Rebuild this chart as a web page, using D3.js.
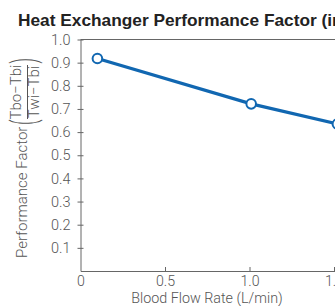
<!DOCTYPE html>
<html>
<head>
<meta charset="utf-8">
<script src="https://cdn.jsdelivr.net/npm/d3@7"></script>
<style>
    body { margin: 0; background: #fff; }
    svg { display: block; font-family: 'Liberation Sans', Arial, sans-serif; }
    .light { font-family: Roboto, 'Liberation Sans', sans-serif; font-weight: 300; }
</style>
</head>
<body>
<div id="chart"></div>
<script>
'use strict';

const flowRates = [0.1, 1.01, 1.52];
const performance = [0.918, 0.722, 0.635];
const yTicks = [0.1, 0.2, 0.3, 0.4, 0.5, 0.6, 0.7, 0.8, 0.9, 1.0];
const xTicks = [0, 0.5, 1.0, 1.5];

(function(doc) {

    const width = 335;
    const height = 306;
    const left = 80.5;
    const top = 39.5;
    const bottom = 271;
    const axisColor = '#666';
    const textColor = '#555';
    const lineColor = '#1167b1';

    const svg = d3.select('#chart').append('svg')
        .attr('width', width)
        .attr('height', height);

    const x = d3.scaleLinear().domain([0, 2]).range([left, left + 2 * 169]);
    const y = d3.scaleLinear().domain([0, 1]).range([bottom, top]);

    // title, cut off on the right like the original
    svg.append('text')
        .attr('x', 18)
        .attr('y', 26)
        .attr('font-size', 17.3)
        .attr('font-weight', 'bold')
        .attr('fill', '#222')
        .text('Heat Exchanger Performance Factor (in vitro)');

    // top border
    svg.append('line')
        .attr('x1', left).attr('x2', width)
        .attr('y1', top).attr('y2', top)
        .attr('stroke', axisColor);

    const yAxis = svg.append('g')
        .attr('transform', `translate(${left}, 0)`)
        .call(d3.axisLeft(y).tickValues(yTicks).tickFormat(d3.format('.1f')).tickSize(0).tickPadding(10));
    yAxis.select('.domain').attr('stroke', axisColor);
    yAxis.selectAll('.tick line')
        .attr('x1', -3).attr('x2', 3)
        .attr('stroke', axisColor);
    yAxis.selectAll('.tick text')
        .attr('class', 'light')
        .attr('font-size', 14.5)
        .attr('fill', textColor)
        .attr('font-family', null);

    const xAxis = svg.append('g')
        .attr('transform', `translate(0, ${bottom})`)
        .call(d3.axisBottom(x).tickValues(xTicks).tickFormat((d) => d === 0 ? '0' : d3.format('.1f')(d))
            .tickSizeInner(-4).tickSizeOuter(0).tickPadding(5));
    xAxis.select('.domain').attr('stroke', axisColor);
    xAxis.selectAll('.tick line').attr('stroke', axisColor);
    xAxis.selectAll('.tick').filter((d) => d === 0).select('line').remove();
    xAxis.selectAll('.tick text')
        .attr('class', 'light')
        .attr('font-size', 14.2)
        .attr('fill', textColor)
        .attr('font-family', null);

    svg.append('text')
        .attr('class', 'light')
        .attr('x', 207)
        .attr('y', 303)
        .attr('text-anchor', 'middle')
        .attr('font-size', 14.3)
        .attr('fill', textColor)
        .text('Blood Flow Rate (L/min)');

    // y label with the fraction in brackets
    const yLabel = svg.append('g')
        .attr('class', 'light')
        .attr('transform', 'translate(27, 258) rotate(-90)')
        .attr('fill', textColor);
    yLabel.append('text')
        .attr('font-size', 15)
        .text('Performance Factor');
    yLabel.append('text')
        .attr('transform', 'translate(133, 8) scale(0.5, 1)')
        .attr('font-size', 34)
        .text('(');
    yLabel.append('text')
        .attr('transform', 'translate(200, 8) scale(0.5, 1)')
        .attr('font-size', 34)
        .attr('text-anchor', 'end')
        .text(')');
    yLabel.append('text')
        .attr('x', 166).attr('y', -6)
        .attr('text-anchor', 'middle')
        .attr('font-size', 15)
        .text('Tbo\u2212Tbi');
    yLabel.append('text')
        .attr('x', 166).attr('y', 11.5)
        .attr('text-anchor', 'middle')
        .attr('font-size', 15)
        .text('Twi\u2212Tbi');
    yLabel.append('line')
        .attr('x1', 139).attr('x2', 193)
        .attr('y1', 0.5).attr('y2', 0.5)
        .attr('stroke', textColor);

    const points = flowRates.map((d, i) => ({flow: d, factor: performance[i]}));

    const line = d3.line()
        .x((d) => x(d.flow))
        .y((d) => y(d.factor));

    svg.append('path')
        .datum(points)
        .attr('d', line)
        .attr('fill', 'none')
        .attr('stroke', lineColor)
        .attr('stroke-width', 3.2);

    svg.selectAll('circle.pt')
        .data(points).enter().append('circle')
        .attr('class', 'pt')
        .attr('cx', (d) => x(d.flow))
        .attr('cy', (d) => y(d.factor))
        .attr('r', 4.8)
        .attr('fill', '#fff')
        .attr('stroke', lineColor)
        .attr('stroke-width', 2);

}(document));
</script>
</body>
</html>
